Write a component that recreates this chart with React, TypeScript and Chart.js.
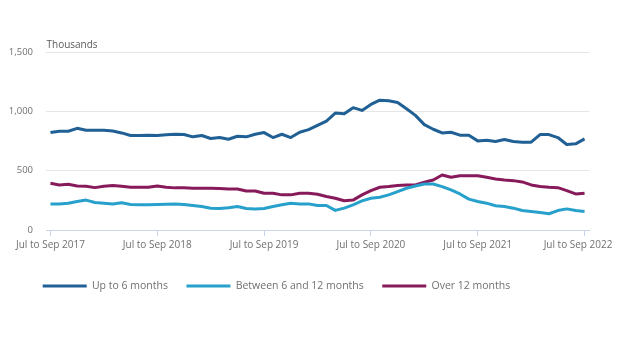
import React, { useEffect, useRef } from "react";
import { Chart, registerables } from "chart.js";

Chart.register(...registerables);

const categories = [
  "Jul to Sep 2017", "Aug to Oct 2017", "Sep to Nov 2017", "Oct to Dec 2017", "Nov to Jan 2018", "Dec to Feb 2018",
  "Jan to Mar 2018", "Feb to Apr 2018", "Mar to May 2018", "Apr to Jun 2018", "May to Jul 2018", "Jun to Aug 2018",
  "Jul to Sep 2018", "Aug to Oct 2018", "Sep to Nov 2018", "Oct to Dec 2018", "Nov to Jan 2019", "Dec to Feb 2019",
  "Jan to Mar 2019", "Feb to Apr 2019", "Mar to May 2019", "Apr to Jun 2019", "May to Jul 2019", "Jun to Aug 2019",
  "Jul to Sep 2019", "Aug to Oct 2019", "Sep to Nov 2019", "Oct to Dec 2019", "Nov to Jan 2020", "Dec to Feb 2020",
  "Jan to Mar 2020", "Feb to Apr 2020", "Mar to May 2020", "Apr to Jun 2020", "May to Jul 2020", "Jun to Aug 2020",
  "Jul to Sep 2020", "Aug to Oct 2020", "Sep to Nov 2020", "Oct to Dec 2020", "Nov to Jan 2021", "Dec to Feb 2021",
  "Jan to Mar 2021", "Feb to Apr 2021", "Mar to May 2021", "Apr to Jun 2021", "May to Jul 2021", "Jun to Aug 2021",
  "Jul to Sep 2021", "Aug to Oct 2021", "Sep to Nov 2021", "Oct to Dec 2021", "Nov to Jan 2022", "Dec to Feb 2022",
  "Jan to Mar 2022", "Feb to Apr 2022", "Mar to May 2022", "Apr to Jun 2022", "May to Jul 2022", "Jun to Aug 2022",
  "Jul to Sep 2022",
];

const tickLabels = [
  "Jul to Sep 2017", "Jul to Sep 2018", "Jul to Sep 2019", "Jul to Sep 2020", "Jul to Sep 2021", "Jul to Sep 2022",
];

const upTo6Months = [
  821, 832, 832, 857, 840, 840, 840, 835, 818, 796,
  796, 799, 796, 802, 807, 805, 785, 796, 771, 779,
  765, 790, 785, 807, 821, 779, 807, 779, 824, 846,
  882, 918, 985, 980, 1031, 1008, 1058, 1094, 1089, 1075,
  1022, 966, 888, 849, 818, 824, 799, 799, 751, 757,
  746, 763, 746, 740, 740, 804, 804, 779, 721, 726,
  768,
];

const between6And12Months = [
  220, 220, 225, 240, 252, 232, 226, 220, 229, 215,
  212, 212, 215, 218, 220, 215, 207, 198, 184, 181,
  187, 198, 181, 176, 181, 198, 212, 226, 220, 220,
  206, 206, 165, 184, 212, 245, 268, 276, 296, 324,
  352, 371, 388, 388, 366, 338, 304, 260, 240, 226,
  204, 198, 184, 164, 156, 148, 137, 164, 178, 164,
  156,
];

const over12Months = [
  394, 380, 385, 371, 368, 357, 368, 375, 368, 360,
  360, 360, 371, 360, 355, 355, 352, 352, 352, 350,
  346, 346, 329, 329, 310, 310, 296, 296, 310, 310,
  301, 282, 268, 246, 252, 296, 332, 360, 366, 375,
  380, 380, 402, 421, 463, 444, 457, 457, 457, 444,
  430, 421, 416, 405, 380, 366, 360, 357, 332, 304,
  310,
];

const yTicks = [0, 500, 1000, 1500];

const FONT = "'Open Sans', 'Noto Sans', sans-serif";

const unitLabelPlugin = {
  id: "unitLabel",
  afterLayout(chart: any) {
    if (chart.legend) {
      chart.legend.left = 16.2;
    }
  },
  afterDraw(chart: any) {
    const { ctx, chartArea } = chart;
    ctx.save();
    ctx.font = `10px ${FONT}`;
    ctx.fillStyle = "#5a5a5a";
    ctx.textBaseline = "middle";
    ctx.textAlign = "left";
    ctx.fillText("Thousands", chartArea.left + 0.5, chartArea.top - 6.5);
    ctx.restore();
  },
};

export default function App() {
  const canvasRef = useRef<HTMLCanvasElement | null>(null);

  useEffect(() => {
    if (!canvasRef.current) return;
    const chart = new Chart(canvasRef.current, {
      type: "line",
      data: {
        labels: categories,
        datasets: [
          {
            label: "Up to 6 months",
            data: upTo6Months,
            borderColor: "#206095",
            backgroundColor: "#206095",
            borderWidth: 3,
            pointRadius: 0,
            tension: 0,
          },
          {
            label: "Between 6 and 12 months",
            data: between6And12Months,
            borderColor: "#27a0cc",
            backgroundColor: "#27a0cc",
            borderWidth: 3,
            pointRadius: 0,
            tension: 0,
          },
          {
            label: "Over 12 months",
            data: over12Months,
            borderColor: "#871a5b",
            backgroundColor: "#871a5b",
            borderWidth: 3,
            pointRadius: 0,
            tension: 0,
          },
        ],
      },
      options: {
        animation: false,
        responsive: true,
        maintainAspectRatio: false,
        layout: { padding: { left: 0, right: 23, top: 44, bottom: 6.75 } },
        elements: { line: { borderJoinStyle: "round" } },
        plugins: {
          tooltip: { enabled: false },
          legend: {
            position: "bottom",
            align: "start",
            labels: {
              usePointStyle: true,
              pointStyle: "line",
              pointStyleWidth: 44,
              padding: 18.5,
              color: "#707070",
              font: { family: FONT, size: 10.5 },
            },
          },
        },
        scales: {
          x: {
            type: "category",
            offset: true,
            grid: {
              display: true,
              drawOnChartArea: false,
              drawTicks: true,
              tickLength: 6,
              color: "#c8d6e8",
              offset: false,
            },
            border: { display: true, color: "#c8d6e8", width: 1 },
            ticks: {
              autoSkip: false,
              maxRotation: 0,
              minRotation: 0,
              padding: 3,
              color: "#707070",
              font: { family: FONT, size: 10 },
              callback: (_v: any, i: number) => {
                const lbl = categories[i];
                if (!tickLabels.includes(lbl)) return null;
                if (i === categories.length - 1) return lbl + "     ";
                return lbl;
              },
            },
            afterFit: (scale: any) => {
              scale.height = 32.25;
              scale.paddingLeft = 0;
              scale.paddingRight = 0;
            },
          },
          y: {
            min: 0,
            max: 1500,
            afterBuildTicks: (scale: any) => {
              scale.ticks = yTicks.map((v) => ({ value: v }));
            },
            grid: { color: "#e6e6e6", drawTicks: false },
            border: { display: false },
            ticks: {
              padding: 13,
              color: "#707070",
              font: { family: FONT, size: 9.5 },
              callback: (v: any) => Number(v).toLocaleString("en-GB"),
            },
            afterFit: (scale: any) => {
              scale.width = 38;
            },
          },
        },
      },
      plugins: [unitLabelPlugin],
    });
    return () => chart.destroy();
  }, []);

  return (
    <div style={{ position: "relative", width: "604px", height: "300px" }}>
      <canvas ref={canvasRef} />
    </div>
  );
}
